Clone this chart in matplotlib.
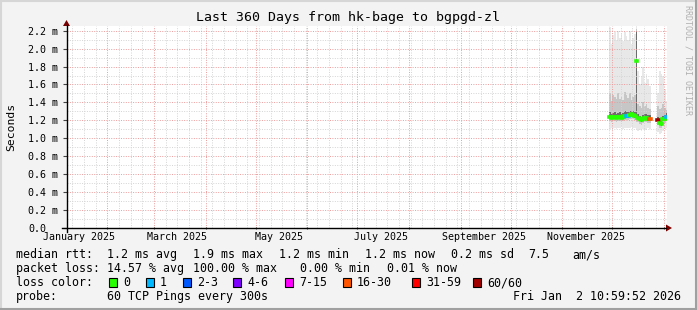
import numpy as np
import pandas as pd
import matplotlib
matplotlib.use("Agg")
import matplotlib.pyplot as plt
import matplotlib.dates as mdates
import matplotlib.transforms as mtrans
from matplotlib.lines import Line2D
from matplotlib.patches import Rectangle, Polygon
from matplotlib.ticker import MultipleLocator, FixedLocator

W, H = 697, 310
MONO = "DejaVu Sans Mono"
nan = np.nan

title = "Last 360 Days from hk-bage to bgpgd-zl"
t_start = pd.Timestamp("2025-01-07 10:59:52")
t_end = pd.Timestamp("2026-01-02 10:59:52")

# one value per day, 2025-11-29 .. 2026-01-02 (ms)
days = pd.date_range("2025-11-29", "2026-01-02", freq="D")
median = [1.24, 1.23, 1.24, 1.24, 1.23, 1.24, 1.24, 1.23, 1.24, 1.25, 1.25, 1.25, 1.26, 1.27, 1.26, 1.25,
          1.86,
          1.23, 1.21, 1.20, 1.22, 1.23, 1.23, 1.22, 1.22,
          nan, nan, nan, nan,
          1.20, 1.17, 1.16, 1.21, 1.22, 1.24]
loss = [0, 0, 0, 0, 0, 0, 0, 0, 0, 0, 1, 1, 0, 0, 0, 0,
        0,
        0, 0, 0, 0, 0, 0, 0, 20,
        0, 0, 0, 0,
        60, 0, 0, 0, 0, 1]
smoke_min = [1.10, 1.12, 1.11, 1.12, 1.10, 1.12, 1.11, 1.13, 1.10, 1.12, 1.11, 1.12, 1.12, 1.13, 1.11, 1.12,
             1.10,
             1.08, 1.09, 1.08, 1.10, 1.09, 1.10, 1.11, 1.10,
             nan, nan, nan, nan,
             1.07, 1.05, 1.06, 1.08, 1.10, 1.11]
smoke_p10 = [1.19, 1.18, 1.19, 1.19, 1.18, 1.19, 1.19, 1.18, 1.19, 1.20, 1.20, 1.20, 1.21, 1.22, 1.21, 1.20,
             1.18,
             1.18, 1.16, 1.15, 1.17, 1.18, 1.18, 1.17, 1.17,
             nan, nan, nan, nan,
             1.15, 1.12, 1.11, 1.16, 1.17, 1.19]
smoke_p25 = [1.22, 1.21, 1.22, 1.22, 1.21, 1.22, 1.22, 1.21, 1.22, 1.23, 1.23, 1.23, 1.24, 1.25, 1.24, 1.23,
             1.22,
             1.21, 1.19, 1.18, 1.20, 1.21, 1.21, 1.20, 1.20,
             nan, nan, nan, nan,
             1.18, 1.15, 1.14, 1.19, 1.20, 1.22]
smoke_p75 = [1.29, 1.27, 1.28, 1.29, 1.27, 1.28, 1.29, 1.27, 1.28, 1.30, 1.29, 1.29, 1.31, 1.31, 1.30, 1.29,
             2.20,
             1.27, 1.25, 1.24, 1.26, 1.27, 1.27, 1.26, 1.26,
             nan, nan, nan, nan,
             1.24, 1.21, 1.20, 1.25, 1.26, 1.28]
smoke_p90 = [1.50, 1.42, 1.48, 1.46, 1.44, 1.50, 1.44, 1.46, 1.43, 1.52, 1.48, 1.45, 1.50, 1.43, 1.46, 1.48,
             2.22,
             1.38, 1.36, 1.34, 1.40, 1.36, 1.38, 1.34, 1.33,
             nan, nan, nan, nan,
             1.36, 1.33, 1.34, 1.38, 1.34, 1.32]
smoke_max = [2.24, 2.05, 2.15, 2.18, 2.10, 2.20, 2.12, 2.16, 2.08, 2.18, 2.14, 2.10, 2.20, 2.05, 2.12, 2.16,
             2.25,
             1.75, 1.60, 1.70, 1.80, 1.62, 1.72, 1.66, 1.58,
             nan, nan, nan, nan,
             1.50, 1.75, 1.72, 1.70, 1.55, 1.42]

# loss colour legend
loss_bins = [0, 1, 2, 4, 7, 16, 31, 60]
loss_labels = ["0", "1", "2-3", "4-6", "7-15", "16-30", "31-59", "60/60"]
loss_colors = ["#26ff00", "#00b8ff", "#0059ff", "#7e00ff", "#ff00ff", "#ff5500", "#ff0000", "#a10000"]

y_ticks = [0.0, 0.2, 0.4, 0.6, 0.8, 1.0, 1.2, 1.4, 1.6, 1.8, 2.0, 2.2]
y_labels = ["0.0", "0.2 m", "0.4 m", "0.6 m", "0.8 m", "1.0 m", "1.2 m", "1.4 m", "1.6 m", "1.8 m", "2.0 m", "2.2 m"]
month_label_dates = ["2025-01-15", "2025-03-15", "2025-05-15", "2025-07-15", "2025-09-15", "2025-11-15"]
month_labels = ["January 2025", "March 2025", "May 2025", "July 2025", "September 2025", "November 2025"]


def loss_color(n):
    c = loss_colors[0]
    for b, col in zip(loss_bins, loss_colors):
        if n >= b:
            c = col
    return c


fig = plt.figure(figsize=(W / 100, H / 100), dpi=100, facecolor="#f3f3f3")
ax = fig.add_axes([66.5 / W, 82 / H, 600 / W, 201.8 / H])
ax.set_facecolor("white")

# smoke
x = mdates.date2num(days)
layers = [(smoke_min, smoke_max, "#e8e8e8"), (smoke_p10, smoke_p90, "#c6c6c6"), (smoke_p25, smoke_p75, "#6c6c6c")]
for lo, hi, col in layers:
    lo = np.array(lo)
    hi = np.array(hi)
    ax.bar(x, hi - lo, bottom=lo, width=1.0, align="edge", color=col, linewidth=0, zorder=1)

# median line coloured by loss
for xi, m, l in zip(x, median, loss):
    if not np.isnan(m):
        ax.plot([xi, xi + 1.0], [m, m], color=loss_color(l), lw=2.6,
                solid_capstyle="projecting", zorder=4)

ax.set_xlim(mdates.date2num(t_start), mdates.date2num(t_end))
ax.set_ylim(0, 2.25)

# grid
ax.xaxis.set_major_locator(mdates.MonthLocator())
ax.xaxis.set_minor_locator(mdates.WeekdayLocator(byweekday=mdates.SA))
ax.yaxis.set_major_locator(FixedLocator(y_ticks))
ax.yaxis.set_minor_locator(MultipleLocator(0.1))
ax.set_axisbelow(False)
ax.grid(which="minor", color="#d4d4d4", lw=0.7, ls=(0, (1, 1.5)))
ax.grid(which="major", color="#eb9c9c", lw=0.7, ls=(0, (1, 1.5)))
ax.set_xticklabels([])
ax.tick_params(axis="x", which="major", length=2, direction="inout", color="#444444")
ax.tick_params(axis="x", which="minor", length=0)
ax.tick_params(axis="y", which="major", length=3, color="#444444", pad=24.5,
               labelsize=7.2, labelfontfamily=MONO)
ax.tick_params(axis="y", which="minor", length=0)
ax.set_yticklabels(y_labels)
for lbl in ax.get_yticklabels():
    lbl.set_horizontalalignment("left")

for s in ax.spines.values():
    s.set_visible(False)

# axis lines with arrows
def fig_line(x0, y0, x1, y1, **kw):
    fig.add_artist(Line2D([x0 / W, x1 / W], [1 - y0 / H, 1 - y1 / H], transform=fig.transFigure, **kw))

fig_line(62, 228, 666, 228, color="black", lw=1.0)
fig_line(66.5, 232, 66.5, 25, color="black", lw=1.0)
fig.add_artist(Polygon([[666 / W, 1 - 224.5 / H], [672 / W, 1 - 228 / H], [666 / W, 1 - 231.5 / H]],
                       closed=True, transform=fig.transFigure, color="#7a0000", lw=0))
fig.add_artist(Polygon([[63 / W, 1 - 26 / H], [66.5 / W, 1 - 20 / H], [70 / W, 1 - 26 / H]],
                       closed=True, transform=fig.transFigure, color="#7a0000", lw=0))

# month labels
tr = mtrans.blended_transform_factory(ax.transData, fig.transFigure)
for d, t in zip(month_label_dates, month_labels):
    ax.text(mdates.date2num(pd.Timestamp(d)), 1 - 237.5 / H, t, transform=tr, ha="center", va="center",
            fontsize=7.2, family=MONO, clip_on=False)

def ftext(px, py, s, **kw):
    kw.setdefault("family", MONO)
    kw.setdefault("va", "center")
    fig.text(px / W, 1 - py / H, s, **kw)

ftext(348, 18, title, fontsize=9.5, ha="center")
ftext(11, 127, "Seconds", fontsize=8.2, ha="center", rotation=90)
ftext(688, 60, "RRDTOOL / TOBI OETIKER", fontsize=6.0, ha="center", rotation=270, color="#b0b0b0")

# legend rows
fs = 8.4
ftext(16, 254.5, "median rtt:", fontsize=fs)
for px, s in [(107, "1.2 ms avg"), (193, "1.9 ms max"), (279, "1.2 ms min"), (365, "1.2 ms now"),
              (451, "0.2 ms sd"), (528, "7.5"), (572, "am/s")]:
    ftext(px, 254.5, s, fontsize=fs)
ftext(16, 268.5, "packet loss:", fontsize=fs)
for px, s in [(107, "14.57 % avg"), (193, "100.00 % max"), (300, "0.00 % min"), (387, "0.01 % now")]:
    ftext(px, 268.5, s, fontsize=fs)
ftext(16, 282.5, "loss color:", fontsize=fs)
box_x = [109, 146, 183, 233, 285, 343, 412, 473]
for bx, lab, col in zip(box_x, loss_labels, loss_colors):
    fig.add_artist(Rectangle((bx / W, 1 - 286.5 / H), 8 / W, 8.5 / H, transform=fig.transFigure,
                             facecolor=col, edgecolor="black", lw=0.8))
    ftext(bx + 14, 282.5, lab, fontsize=fs)
ftext(16, 296.5, "probe:", fontsize=fs)
ftext(107, 296.5, "60 TCP Pings every 300s", fontsize=fs)
ftext(681, 296.5, "Fri Jan  2 10:59:52 2026", fontsize=fs, ha="right")

# 3d frame
fig_line(0, 0.5, W, 0.5, color="#d6d6d6", lw=1.5)
fig_line(0.5, 0, 0.5, H, color="#d6d6d6", lw=1.5)
fig_line(0, H - 1, W, H - 1, color="#a0a0a0", lw=1.5)
fig_line(W - 1, 0, W - 1, H, color="#a0a0a0", lw=1.5)

fig.savefig("out.png", dpi=100, facecolor=fig.get_facecolor())
